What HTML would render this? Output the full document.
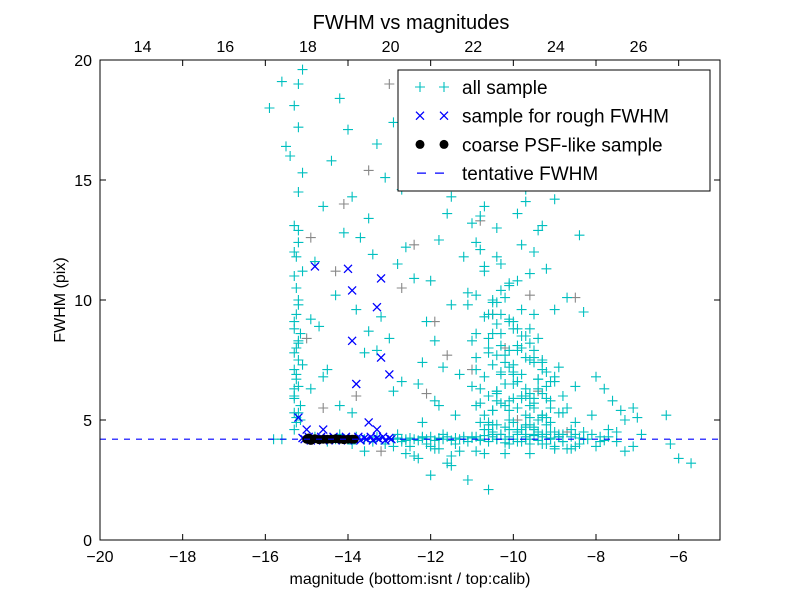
<!DOCTYPE html>
<html><head><meta charset="utf-8"><style>
body{margin:0;background:#fff;}
svg{display:block;font-family:"Liberation Sans","DejaVu Sans",sans-serif;}
</style></head><body>
<svg id="chart" width="800" height="600" xmlns="http://www.w3.org/2000/svg">
<rect width="800" height="600" fill="#fff"/>
<g id="marks"></g>
<g id="axes"></g>
</svg>
<script>
const xTicks=[-20,-18,-16,-14,-12,-10,-8,-6];
const topTicks=[14,16,18,20,22,24,26];
const yTicks=[0,5,10,15,20];
const tentativeFWHM=4.2;
const allX=[-15.3,-15.25,-15.2,-15.15,-15.3,-15.2,-15.25,-15.1,-15.3,-15.2,-15.15,-15.3,-15.2,-15.25,-15.1,-15.3,-15.2,-15.3,-15.2,-15.1,-15.4,-15.2,-15.3,-15.2,-15.6,-15.9,-15.5,-15.1,-14.9,-14.8,-14.6,-14.4,-14.2,-14.0,-13.9,-13.7,-13.5,-13.3,-13.1,-12.9,-12.7,-12.5,-14.7,-14.3,-13.8,-13.4,-13.0,-12.6,-14.5,-14.1,-13.6,-13.2,-12.8,-12.4,-14.9,-14.2,-13.5,-12.9,-12.2,-14.6,-13.9,-13.3,-12.7,-12.0,-11.8,-11.6,-11.4,-11.2,-11.0,-10.8,-12.1,-11.9,-11.5,-11.1,-10.7,-12.3,-11.7,-11.3,-10.9,-10.5,-11.9,-11.4,-10.9,-10.4,-12.2,-11.8,-11.0,-10.6,-10.2,-11.5,-10.8,-10.4,-10.6,-10.5,-10.4,-10.3,-10.2,-10.1,-10.0,-9.9,-9.8,-9.7,-9.6,-9.5,-9.4,-9.3,-10.6,-10.4,-10.2,-10.0,-9.8,-9.6,-9.4,-9.2,-10.5,-10.3,-10.1,-9.9,-9.7,-9.5,-9.3,-9.1,-10.7,-10.4,-10.1,-9.8,-9.5,-9.2,-8.9,-10.6,-10.2,-9.9,-9.6,-9.3,-9.0,-10.8,-10.3,-10.0,-9.7,-9.4,-9.1,-8.8,-10.5,-10.1,-9.8,-9.5,-9.2,-8.9,-8.6,-10.4,-10.0,-9.6,-9.2,-8.8,-8.5,-8.3,-8.1,-7.9,-7.7,-7.5,-7.3,-7.1,-6.9,-8.6,-8.2,-7.8,-7.4,-9.9,-9.6,-9.3,-9.0,-10.2,-9.7,-9.4,-10.3,-9.9,-9.5,-10.1,-9.6,-9.0,-10.4,-9.8,-9.3,-10.0,-9.5,-11.0,-10.6,-10.9,-10.7,-11.2,-10.3,-9.7,-9.2,-8.7,-8.4,-8.0,-7.6,-6.3,-6.0,-5.7,-6.2,-7.0,-11.6,-11.1,-10.6,-12.4,-12.0,-11.5,-13.6,-12.9,-12.3,-11.8,-12.6,-12.0,-11.5,-10.9,-10.2,-9.6,-9.0,-8.4,-8.0,-13.1,-12.5,-11.9,-11.3,-10.7,-10.1,-9.5,-8.9,-8.5,-14.8,-14.2,-13.8,-13.3,-12.8,-12.2,-11.7,-11.0,-10.5,-9.9,-9.3,-8.8,-14.5,-13.9,-13.4,-12.7,-12.1,-11.4,-10.8,-10.2,-9.6,-15.8,-15.6,-14.3,-13.6,-12.6,-11.8,-11.2,-10.4,-9.7,-9.1,-8.4,-7.8];
const allY=[4.6,4.9,5.3,5.6,6.0,6.4,6.9,7.3,7.8,8.2,8.6,9.1,9.8,10.5,11.2,12.0,12.4,13.1,14.5,15.3,16.0,17.2,18.1,19.0,19.1,18.0,16.4,19.6,9.2,11.6,13.9,15.8,18.4,17.1,14.3,12.6,13.4,16.5,15.1,17.4,14.6,18.2,8.9,10.2,9.6,11.9,8.4,12.2,7.1,12.8,7.8,9.3,11.5,10.9,6.3,5.6,8.7,6.2,7.4,6.8,5.3,7.9,6.6,10.8,12.5,13.6,14.9,11.8,13.2,12.1,9.1,8.3,9.8,10.3,11.4,6.5,7.2,6.9,8.6,9.4,5.8,5.2,7.6,6.1,4.9,5.6,6.4,7.8,10.1,14.3,13.5,13.0,4.8,5.4,6.2,7.0,6.5,5.8,7.3,8.1,6.9,6.0,7.5,5.5,6.3,7.1,8.4,9.0,7.7,8.8,9.6,8.2,6.7,5.9,9.9,10.4,9.2,10.8,8.5,9.4,5.1,6.6,11.2,11.8,10.6,12.3,7.4,6.4,5.3,4.9,5.6,7.9,6.1,5.2,6.8,5.7,8.6,9.1,4.7,5.0,5.5,6.0,4.8,5.4,5.9,4.6,5.1,7.2,4.6,5.8,6.5,5.1,4.8,5.3,4.9,4.5,5.2,4.3,4.6,4.1,3.7,3.9,4.4,3.8,4.2,6.3,5.4,6.6,5.9,13.1,14.2,15.0,14.6,12.9,11.5,13.6,12.0,10.7,11.1,9.6,9.9,8.0,7.4,6.9,7.6,8.3,9.4,12.4,13.9,15.4,16.3,14.1,11.3,10.1,12.7,6.8,5.8,5.2,3.4,3.2,4.0,5.1,3.2,2.5,2.1,3.5,2.7,3.1,3.7,3.9,3.4,3.8,3.6,3.9,3.5,3.7,3.6,3.6,3.8,4.0,3.9,4.0,3.9,3.8,3.7,3.6,4.0,4.4,4.3,4.4,4.3,4.4,4.3,4.3,4.4,4.3,4.4,4.3,4.4,4.1,4.0,4.1,4.1,4.0,4.1,4.1,4.0,4.0,4.2,4.2,4.2,4.2,4.2,4.2,4.2,4.2,4.2,4.2,4.2,4.2];
const bandX=[-12.9,-12.8,-12.7,-12.6,-12.5,-12.4,-12.3,-12.2,-12.1,-12.0,-11.9,-11.8,-11.7,-11.6,-11.5,-11.4,-11.3,-11.2,-11.1,-11.0,-10.9,-10.8,-10.7,-10.6,-10.5,-10.4,-10.3,-10.2,-10.1,-10.0,-9.9,-9.8,-9.7,-9.6,-9.5,-9.4,-9.3,-9.2,-9.1,-9.0,-8.9,-8.8,-8.7,-8.6,-8.5,-8.3,-8.1,-7.9,-7.7,-7.5,-7.3,-7.1,-15.3,-15.3,-15.25,-15.3,-15.2,-15.25,-15.2,-15.3,-15.25,-15.2,-15.3,-15.25,-15.2,-15.15,-15.3,-15.25];
const bandY=[4.2,4.25,4.15,4.2,4.25,4.2,4.15,4.25,4.2,4.15,4.25,4.2,4.3,4.15,4.25,4.2,4.3,4.15,4.25,4.2,4.3,4.1,4.25,4.3,4.15,4.35,4.1,4.3,4.2,4.4,4.05,4.3,4.2,4.4,4.1,4.3,4.0,4.35,4.15,4.3,4.0,4.25,3.9,4.4,4.1,3.8,4.3,3.9,4.2,4.4,4.1,4.3,4.5,5.0,5.5,5.9,6.3,6.7,7.1,7.5,8.0,8.3,8.8,9.4,10.0,11.0,11.8,12.9];
const clusterX=[-10.9,-10.7,-10.5,-10.3,-10.1,-9.9,-9.7,-9.5,-9.3,-9.1,-10.8,-10.6,-10.4,-10.2,-10.0,-9.8,-9.6,-9.4,-9.2,-9.0,-10.9,-10.7,-10.5,-10.3,-10.1,-9.9,-9.7,-9.5,-9.3,-10.6,-10.4,-10.2,-10.0,-9.8,-9.6,-9.4,-10.5,-10.3,-10.1,-9.9,-9.7,-9.5,-10.8,-10.6,-10.4,-10.2,-10.0,-9.8,-9.6,-9.4,-9.2,-9.0,-8.8,-10.7,-10.5,-10.3,-10.1,-9.9,-9.7,-9.5,-9.3,-9.1,-8.9,-8.7,-8.5,-8.3,-11.1,-10.9,-10.7,-10.5,-10.3,-10.1,-9.9,-9.7,-9.5,-9.3,-9.1,-8.9,-8.7,-8.5];
const clusterY=[5.0,5.3,5.1,5.6,5.2,5.4,5.7,5.0,5.5,5.2,5.9,6.1,5.8,6.3,6.0,6.2,6.5,5.9,6.0,5.6,6.7,7.0,6.6,7.1,6.8,7.3,6.9,7.2,6.6,7.6,7.9,7.5,8.0,7.7,7.4,7.0,8.5,8.8,8.4,8.6,8.1,7.9,4.6,4.8,4.7,4.9,4.6,4.8,4.7,4.9,4.6,4.8,4.5,4.4,4.5,4.4,4.6,4.5,4.4,4.6,4.5,4.4,4.6,4.4,4.5,4.3,5.5,6.4,9.5,9.8,10.2,9.3,10.0,9.4,9.1,8.8,6.3,5.7,5.2,4.9];
const grayX=[-15.0,-14.6,-14.1,-13.5,-13.0,-12.4,-11.9,-11.3,-10.8,-10.2,-9.6,-9.0,-8.5,-14.3,-13.8,-12.7,-11.6,-10.5,-9.4,-14.9,-13.2,-12.1,-11.0,-9.9,-8.7];
const grayY=[8.4,5.5,14.0,15.4,19.0,12.3,9.1,17.4,13.3,8.0,10.2,16.5,10.1,11.2,6.0,10.5,7.7,9.4,6.2,12.6,3.7,6.1,7.1,5.0,4.5];
const roughX=[-15.2,-15.0,-14.8,-14.0,-13.9,-13.9,-13.3,-13.2,-13.2,-13.0,-13.8,-13.5,-13.3,-14.6,-15.1,-15.05,-14.95,-14.9,-14.8,-14.75,-14.65,-14.6,-14.5,-14.45,-14.35,-14.3,-14.2,-14.15,-14.05,-14.0,-13.9,-13.85,-13.75,-13.7,-13.6,-13.55,-13.45,-13.4,-13.3,-13.25,-13.15,-13.1,-13.0,-12.95];
const roughY=[5.1,4.6,11.4,11.3,10.4,8.3,9.7,10.9,7.6,6.9,6.5,4.9,4.6,4.6,4.25,4.2,4.3,4.15,4.25,4.2,4.3,4.15,4.25,4.2,4.3,4.15,4.25,4.2,4.3,4.15,4.25,4.2,4.3,4.15,4.25,4.2,4.3,4.15,4.25,4.2,4.3,4.15,4.25,4.2];
const psfX=[-15.0,-14.95,-14.9,-14.8,-14.7,-14.6,-14.5,-14.4,-14.3,-14.2,-14.1,-14.0,-13.9,-13.85];
const psfY=[4.2,4.25,4.15,4.22,4.18,4.2,4.2,4.2,4.22,4.2,4.18,4.2,4.2,4.2];

const L=100,R=720,T=60,B=540;
const xs=v=>L+(v+20)/15*(R-L);
const ys=v=>B-v/20*(B-T);
const xsTop=v=>xs(v-32.97);
const NS="http://www.w3.org/2000/svg";
function mk(tag,attrs,parent){const e=document.createElementNS(NS,tag);for(const k in attrs)e.setAttribute(k,attrs[k]);parent.appendChild(e);return e;}
const marks=document.getElementById('marks'),axes=document.getElementById('axes');
mk('clipPath',{id:'pc'},marks);
mk('rect',{x:L,y:T,width:R-L,height:B-T},marks.lastChild);
const mg=mk('g',{'clip-path':'url(#pc)'},marks);
function plus(x,y,c,g){return mk('path',{d:`M${x-5},${y}h10M${x},${y-5}v10`,stroke:c,'stroke-width':1.1,fill:'none'},g);}
function cross(x,y,c,g){return mk('path',{d:`M${x-4},${y-4}l8,8M${x-4},${y+4}l8,-8`,stroke:c,'stroke-width':1.3,fill:'none'},g);}
for(let i=0;i<grayX.length;i++){const p=plus(xs(grayX[i]),ys(grayY[i]),'#888',mg);

}
const allXs=allX.concat(bandX,clusterX), allYs=allY.concat(bandY,clusterY);
for(let i=0;i<allXs.length;i++){const p=plus(xs(allXs[i]),ys(allYs[i]),'#00bfbf',mg);

}
for(let i=0;i<roughX.length;i++){const p=cross(xs(roughX[i]),ys(roughY[i]),'#0000ff',mg);

}
for(let i=0;i<psfX.length;i++){const p=mk('circle',{cx:xs(psfX[i]),cy:ys(psfY[i]),r:4.5,fill:'#000'},mg);

}
const dl=mk('line',{x1:L,x2:R,y1:ys(tentativeFWHM),y2:ys(tentativeFWHM),stroke:'#0000ff','stroke-width':1.2,'stroke-dasharray':'6,6'},mg);


const fr=mk('rect',{x:L,y:T,width:R-L,height:B-T,fill:'none',stroke:'#000','stroke-width':1},axes);


xTicks.forEach(v=>{const x=xs(v);
mk('path',{d:`M${x},${B}v-6M${x},${T}v6`,stroke:'#000'},axes);
const t=mk('text',{x:x,y:B+22,'text-anchor':'middle','font-size':16},axes);t.textContent=(v<0?'\u2212'+(-v):v);

});
topTicks.forEach(v=>{const x=xsTop(v);
const t=mk('text',{x:x,y:T-8,'text-anchor':'middle','font-size':16},axes);t.textContent=v;

});
yTicks.forEach(v=>{const y=ys(v);
mk('path',{d:`M${L},${y}h6M${R},${y}h-6`,stroke:'#000'},axes);
const t=mk('text',{x:L-8,y:y+6,'text-anchor':'end','font-size':16},axes);t.textContent=v;

});
let t=mk('text',{x:411,y:29,'text-anchor':'middle','font-size':20},axes);t.textContent='FWHM vs magnitudes';


t=mk('text',{x:410,y:584,'text-anchor':'middle','font-size':16},axes);t.textContent='magnitude (bottom:isnt / top:calib)';


t=mk('text',{x:65,y:300,'text-anchor':'middle','font-size':16,transform:'rotate(-90 65 300)'},axes);t.textContent='FWHM (pix)';


const lg=mk('g',{},axes);


mk('rect',{x:398,y:70,width:312,height:121,fill:'#fff',stroke:'#000'},lg);
const items=['all sample','sample for rough FWHM','coarse PSF-like sample','tentative FWHM'];
items.forEach((s,i)=>{const y=87+i*28.7;const g=mk('g',{},lg);


if(i==0){plus(420,y,'#00bfbf',g);plus(444,y,'#00bfbf',g);}
if(i==1){cross(420,y,'#0000ff',g);cross(444,y,'#0000ff',g);}
if(i==2){mk('circle',{cx:420,cy:y,r:4.5,fill:'#000'},g);mk('circle',{cx:444,cy:y,r:4.5,fill:'#000'},g);}
if(i==3){mk('line',{x1:414,x2:450,y1:y,y2:y,stroke:'#0000ff','stroke-width':1.2,'stroke-dasharray':'9,9','stroke-dashoffset':-3},g);}
const tx=mk('text',{x:462,y:y+7,'font-size':19},g);tx.textContent=s;});
</script>
</body></html>
